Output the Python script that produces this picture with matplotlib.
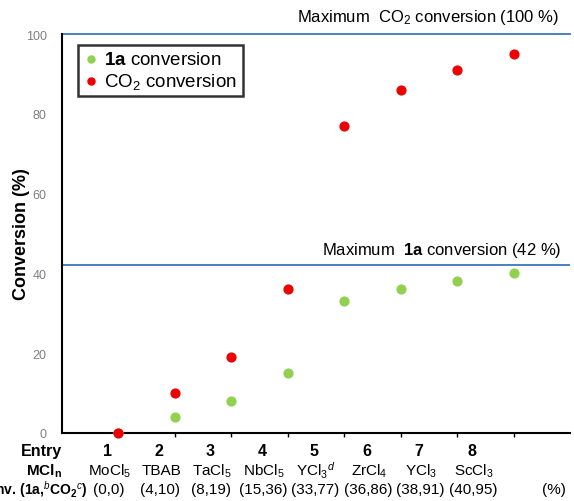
import numpy as np
import matplotlib.pyplot as plt

plt.rcParams['font.family'] = ['Liberation Sans', 'DejaVu Sans']
plt.rcParams['mathtext.fontset'] = 'custom'
plt.rcParams['mathtext.rm'] = 'Liberation Sans'
plt.rcParams['mathtext.bf'] = 'Liberation Sans:bold'
plt.rcParams['mathtext.it'] = 'Liberation Sans:italic'

#%% data
entries = [1, 2, 3, 4, 5, 6, 7, 8]
catalysts = ['MoCl$_5$', 'TBAB', 'TaCl$_5$', 'NbCl$_5$', 'YCl$_3$$^d$', 'ZrCl$_4$', 'YCl$_3$', 'ScCl$_3$']
conv_1a = [0, 4, 8, 15, 33, 36, 38, 40]
conv_co2 = [0, 10, 19, 36, 77, 86, 91, 95]
max_1a = 42
max_co2 = 100

green = '#92d050'
red = '#ee0000'
blue = '#3a77b8'

#%% plot
fig = plt.figure(figsize=(5.74, 5.02), dpi=100)
ax = fig.add_axes([62/574, 1-434/502, 508/574, 399/502])

ax.scatter(entries, conv_1a, s=40, color=green, zorder=3, label=r'$\mathbf{1a}$ conversion')
ax.scatter(entries, conv_co2, s=40, color=red, zorder=3, label='CO$_2$ conversion', clip_on=False)

ax.axhline(max_co2, color=blue, lw=1.3, clip_on=False)
ax.axhline(max_1a, color=blue, lw=1.3)
ax.text(8.8, max_co2 + 2, 'Maximum  CO$_2$ conversion (100 %)', ha='right', va='bottom', fontsize=12)
ax.text(8.85, max_1a + 1.5, r'Maximum  $\mathbf{1a}$ conversion (42 %)', ha='right', va='bottom', fontsize=12)

ax.set_xlim(0, 9)
ax.set_ylim(0, 100)
ax.set_yticks([0, 20, 40, 60, 80, 100])
ax.set_xticks(range(1, 9))
ax.set_xticklabels([])
ax.tick_params(axis='y', length=0, labelcolor='#808080', labelsize=9, pad=11)
ax.tick_params(axis='x', length=3, width=1, direction='out')
for s in ['top', 'right']:
    ax.spines[s].set_visible(False)
for s in ['left', 'bottom']:
    ax.spines[s].set_linewidth(1.5)
ax.set_ylabel('Conversion (%)', fontsize=13, fontweight='bold')
ax.yaxis.set_label_coords(-32/508, 0.5)

leg = ax.legend(loc='upper left', bbox_to_anchor=(16/508, 388/399), borderaxespad=0,
                fontsize=13.5, frameon=True, fancybox=False, handletextpad=0.3,
                handlelength=0.8, borderpad=0.3, labelspacing=0.15, markerscale=0.8)
leg.get_frame().set_edgecolor('black')
leg.get_frame().set_linewidth(1.8)

#%% table rows under the axis (placed in figure pixels)
col_x = [108, 159, 210, 262, 314, 367, 419, 472]
vals = ['(%d,%d)' % (a, c) for a, c in zip(conv_1a, conv_co2)]

def fx(px):
    return px / 574

def fy(py):
    return 1 - py / 502

fig.text(fx(62), fy(452), 'Entry', ha='right', va='center', fontsize=11.5, fontweight='bold')
fig.text(fx(62), fy(471), r'MCl$_\mathbf{n}$', ha='right', va='center', fontsize=11, fontweight='bold')
fig.text(fx(87), fy(490), r'Conv. (1a,$^b$CO$_\mathbf{2}$$^c$)', ha='right', va='center',
         fontsize=10, fontweight='bold')
for x, e, c, v in zip(col_x, entries, catalysts, vals):
    fig.text(fx(x), fy(452), str(e), ha='center', va='center', fontsize=11.5, fontweight='bold')
    fig.text(fx(x + 2), fy(471), c, ha='center', va='center', fontsize=11)
    fig.text(fx(x + 1), fy(490), v, ha='center', va='center', fontsize=11)
fig.text(fx(554), fy(490), '(%)', ha='center', va='center', fontsize=11)

plt.savefig('out.png', dpi=100)
